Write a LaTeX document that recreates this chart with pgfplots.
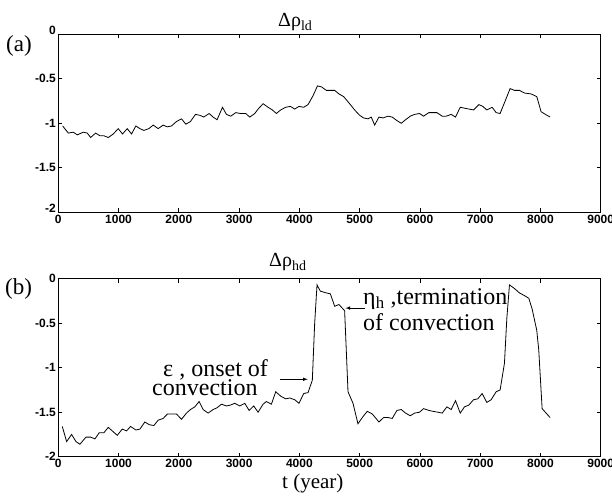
\documentclass[border=0pt]{standalone}
\usepackage{fontspec}
\setmainfont{Liberation Serif}
\setsansfont{Liberation Sans}
\usepackage{pgfplots}
\pgfplotsset{compat=1.18}

\pgfplotsset{
  panel/.style={
    scale only axis,
    width=542.4pt, height=178pt,
    anchor=south west,
    xmin=0, xmax=9000, ymin=-2, ymax=0,
    xtick={0,1000,...,9000},
    xticklabels={0,1000,2000,3000,4000,5000,6000,7000,8000,9000},
    ytick={-2,-1.5,-1,-0.5,0},
    tick pos=both, tick align=inside,
    major tick length=4pt,
    axis line style={line width=0.8pt},
    every tick/.style={line width=0.7pt, black},
    tick label style={font=\fontsize{12}{14}\selectfont\sffamily\bfseries},
    xticklabel style={yshift=1pt},
    yticklabel style={xshift=1pt},
    clip=false,
  },
}

\begin{document}
\begin{tikzpicture}[x=1pt,y=1pt]
\useasboundingbox (0,0) rectangle (612,495);

% panel (a)
\begin{axis}[panel, at={(58.3pt,282.7pt)},
  yticklabels={\raisebox{7pt}{-2},-1.5,-1,-0.5,\raisebox{7pt}{0}}]
\addplot[black, line width=0.8pt] coordinates {
(72,-1.03)(166,-1.11)(249,-1.10)(315,-1.13)(414,-1.10)(481,-1.11)(536,-1.16)(619,-1.11)
(690,-1.14)(757,-1.14)(829,-1.16)(912,-1.12)(994,-1.06)(1066,-1.12)(1144,-1.06)(1215,-1.12)
(1287,-1.03)(1354,-1.06)(1420,-1.08)(1503,-1.06)(1575,-1.02)(1657,-1.06)(1740,-1.02)(1807,-1.04)
(1878,-1.03)(1961,-0.98)(2044,-0.95)(2116,-1.01)(2193,-0.98)(2276,-0.90)(2348,-0.91)(2414,-0.93)
(2503,-0.89)(2569,-0.93)(2635,-0.96)(2724,-0.82)(2790,-0.90)(2862,-0.92)(2945,-0.88)(3022,-0.89)
(3110,-0.89)(3177,-0.93)(3260,-0.89)(3315,-0.84)(3398,-0.78)(3481,-0.82)(3552,-0.85)(3619,-0.89)
(3690,-0.85)(3773,-0.82)(3851,-0.81)(3923,-0.84)(3994,-0.81)(4072,-0.82)(4144,-0.79)(4227,-0.69)
(4300,-0.58)(4365,-0.59)(4448,-0.63)(4586,-0.63)(4657,-0.67)(4735,-0.70)(4834,-0.78)(4917,-0.85)
(5000,-0.91)(5066,-0.94)(5138,-0.95)(5193,-0.93)(5249,-1.02)(5320,-0.93)(5387,-0.94)(5470,-0.92)
(5541,-0.93)(5619,-0.97)(5691,-1.00)(5762,-0.96)(5840,-0.92)(5912,-0.90)(5994,-0.89)(6061,-0.92)
(6149,-0.88)(6215,-0.88)(6282,-0.88)(6370,-0.92)(6436,-0.92)(6519,-0.90)(6591,-0.93)(6669,-0.82)
(6740,-0.83)(6812,-0.84)(6890,-0.85)(6978,-0.79)(7044,-0.81)(7110,-0.85)(7199,-0.82)(7265,-0.88)
(7331,-0.89)(7420,-0.74)(7497,-0.61)(7569,-0.63)(7652,-0.63)(7735,-0.66)(7845,-0.67)(7939,-0.70)
(8011,-0.87)(8083,-0.90)(8160,-0.93)
};
\end{axis}

% panel (b)
\begin{axis}[panel, at={(58.3pt,38.3pt)},
  yticklabels={-2,-1.5,-1,-0.5,0}]
\addplot[black, line width=0.8pt] coordinates {
(66,-1.66)(138,-1.83)(221,-1.75)(293,-1.83)(359,-1.86)(459,-1.78)(536,-1.78)(608,-1.80)
(680,-1.73)(757,-1.73)(829,-1.67)(912,-1.72)(978,-1.76)(1061,-1.69)(1133,-1.71)(1199,-1.66)
(1287,-1.70)(1354,-1.69)(1436,-1.61)(1508,-1.64)(1586,-1.65)(1657,-1.59)(1740,-1.57)(1812,-1.52)
(1878,-1.52)(1961,-1.52)(2044,-1.58)(2127,-1.51)(2193,-1.47)(2265,-1.44)(2337,-1.38)(2403,-1.47)
(2486,-1.51)(2569,-1.47)(2635,-1.45)(2707,-1.41)(2790,-1.43)(2856,-1.42)(2928,-1.40)(3011,-1.43)
(3094,-1.40)(3166,-1.48)(3243,-1.43)(3315,-1.50)(3398,-1.41)(3453,-1.38)(3536,-1.41)(3608,-1.27)
(3691,-1.32)(3773,-1.35)(3840,-1.34)(3923,-1.36)(3994,-1.40)(4072,-1.29)(4144,-1.28)(4215,-1.14)
(4254,-0.50)(4293,-0.07)(4348,-0.14)(4448,-0.16)(4514,-0.17)(4586,-0.31)(4657,-0.29)(4724,-0.34)
(4751,-0.36)(4807,-1.27)(4890,-1.40)(4972,-1.63)(5055,-1.55)(5127,-1.49)(5210,-1.52)(5320,-1.61)
(5398,-1.56)(5470,-1.56)(5541,-1.57)(5619,-1.48)(5691,-1.47)(5762,-1.51)(5840,-1.54)(5912,-1.51)
(5994,-1.50)(6061,-1.46)(6149,-1.48)(6215,-1.49)(6298,-1.50)(6370,-1.51)(6448,-1.44)(6519,-1.47)
(6591,-1.37)(6669,-1.51)(6740,-1.44)(6812,-1.42)(6890,-1.36)(6961,-1.35)(7033,-1.29)(7110,-1.39)
(7182,-1.36)(7265,-1.27)(7331,-1.25)(7403,-0.95)(7442,-0.45)(7486,-0.07)(7569,-0.11)(7652,-0.16)
(7735,-0.19)(7807,-0.22)(7862,-0.34)(7939,-0.58)(7972,-0.80)(8028,-1.46)(8094,-1.51)(8160,-1.56)
};
% arrows
\draw[-latex, line width=0.6pt] (axis cs:3675,-1.13) -- (axis cs:4139,-1.13);
\draw[-latex, line width=0.6pt] (axis cs:5090,-0.33) -- (axis cs:4765,-0.33);
\end{axis}

% titles, panel letters, annotations
\begin{scope}[every node/.style={inner sep=0pt, font=\fontsize{20}{24}\selectfont}]
\node[anchor=base west] at (278,468) {Δρ\textsubscript{ld}};
\node[anchor=base west] at (269,228) {Δρ\textsubscript{hd}};
\node[anchor=base west, font=\fontsize{23}{27}\selectfont] at (6,443) {(a)};
\node[anchor=base west, font=\fontsize{23}{27}\selectfont] at (5,200) {(b)};
\node[anchor=base west, font=\fontsize{21}{25}\selectfont] at (282,7) {t (year)};
\node[anchor=base west, font=\fontsize{24}{28}\selectfont] at (163,118) {ε , onset of};
\node[anchor=base west, font=\fontsize{24}{28}\selectfont] at (152,100) {convection};
\node[anchor=base west, font=\fontsize{24}{28}\selectfont] at (363,190) {η\textsubscript{h} ,termination};
\node[anchor=base west, font=\fontsize{24}{28}\selectfont] at (363,164) {of convection};
\end{scope}
\end{tikzpicture}
\end{document}
